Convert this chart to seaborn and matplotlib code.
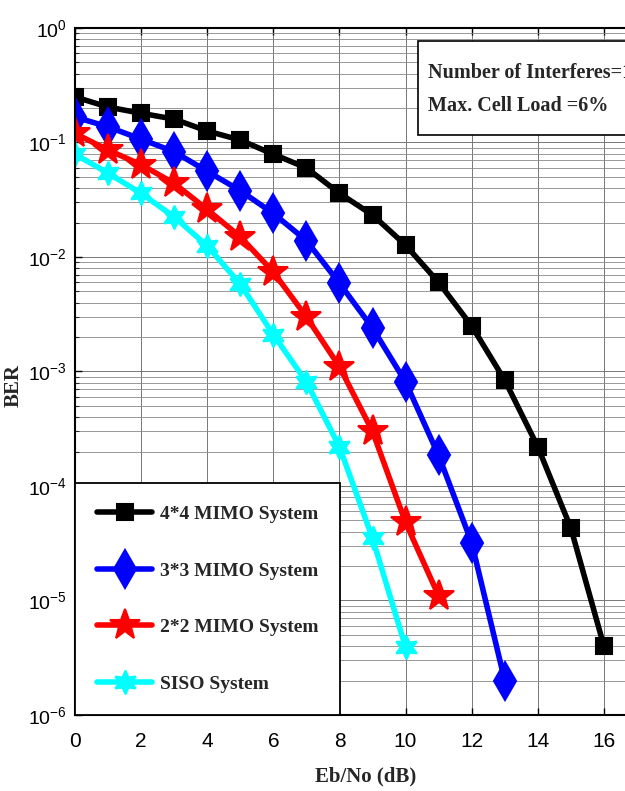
import numpy as np
import pandas as pd
import seaborn as sns
import matplotlib
matplotlib.use("Agg")
import matplotlib.pyplot as plt
from matplotlib.ticker import LogLocator, NullFormatter, FixedLocator
from matplotlib.patches import Rectangle

# ---- data ----
snr_44 = list(range(17))
ber_44 = [0.25, 0.204, 0.18, 0.16, 0.126, 0.105, 0.079, 0.06, 0.036, 0.0233,
          0.0127, 0.006, 0.0025, 8.4e-4, 2.2e-4, 4.3e-5, 4.0e-6]
snr_33 = list(range(14))
ber_33 = [0.167, 0.137, 0.107, 0.083, 0.056, 0.038, 0.024, 0.0139, 0.0059,
          0.0024, 8.1e-4, 1.85e-4, 3.2e-5, 2.0e-6]
snr_22 = list(range(12))
ber_22 = [0.12, 0.086, 0.064, 0.044, 0.026, 0.015, 0.0074, 0.003, 1.1e-3,
          3.0e-4, 4.8e-5, 1.1e-5]
snr_siso = list(range(11))
ber_siso = [0.079, 0.054, 0.036, 0.0224, 0.0125, 0.0058, 0.0021, 8.1e-4,
            2.2e-4, 3.5e-5, 3.9e-6]

labels = ["4*4 MIMO System", "3*3 MIMO System", "2*2 MIMO System", "SISO System"]
xticks = [0, 2, 4, 6, 8, 10, 12, 14, 16]

series = [
    (labels[0], snr_44, ber_44, "black", "s", 12),
    (labels[1], snr_33, ber_33, "blue", "d", 19),
    (labels[2], snr_22, ber_22, "red", "*", 23),
    (labels[3], snr_siso, ber_siso, "cyan", (6, 1, 0), 17),
]

sns.set_theme(style="white")
plt.rcParams["font.family"] = ["Liberation Sans", "DejaVu Sans"]
plt.rcParams["mathtext.fontset"] = "custom"
plt.rcParams["mathtext.rm"] = "Liberation Sans"

fig = plt.figure(figsize=(6.25, 7.91), dpi=100)
ax = fig.add_axes([0.12, 0.0961, 0.952, 0.8685])

for name, xs, ys, col, mk, ms in series:
    df = pd.DataFrame({"snr": xs, "ber": ys})
    sns.lineplot(data=df, x="snr", y="ber", ax=ax, color=col, linewidth=4,
                 marker=mk, markersize=ms, markeredgecolor=col,
                 markerfacecolor=col, markeredgewidth=1.5, label=name)

ax.set_yscale("log")
ax.set_ylim(1e-6, 1)
ax.set_xlim(0, 18)
ax.xaxis.set_major_locator(FixedLocator(xticks))
ax.yaxis.set_major_locator(LogLocator(base=10, numticks=10))
ax.yaxis.set_minor_locator(LogLocator(base=10, subs=np.arange(2, 10), numticks=100))
ax.yaxis.set_minor_formatter(NullFormatter())

ax.grid(True, which="major", color="#777777", linewidth=0.7, linestyle="-")
ax.grid(True, which="minor", axis="y", color="#888888", linewidth=0.6, linestyle="-")

for sp in ax.spines.values():
    sp.set_color("black")
    sp.set_linewidth(1.5)

ax.tick_params(axis="both", which="major", direction="in", length=5, width=1,
               top=True, right=False, bottom=True, left=True,
               colors="black")
ax.tick_params(axis="x", which="major", pad=12, labelsize=15)
ax.tick_params(axis="y", which="major", pad=6, labelsize=14)
ax.tick_params(axis="y", which="minor", direction="in", length=3, width=0.8,
               left=True, right=False)

serif_bold = dict(family=["Liberation Serif", "DejaVu Serif"], weight="bold")
ax.set_xlabel("Eb/No (dB)", fontsize=15, **serif_bold)
ax.set_ylabel("BER", fontsize=15, **serif_bold)
ax.xaxis.set_label_coords((366 - 75) / 595, -0.075)
ax.yaxis.set_label_coords(-0.087, 0.48)

leg = ax.legend(loc="lower left", bbox_to_anchor=(0, 0), borderaxespad=0,
                frameon=True, fancybox=False, edgecolor="black",
                prop=dict(family="Liberation Serif", weight="bold", size=14),
                handlelength=2.8, handletextpad=0.4, labelspacing=2.0,
                borderpad=1.15, framealpha=1)
leg.get_frame().set_linewidth(1.3)

rect = Rectangle((0.5765, 0.844), 0.6, 0.137, transform=ax.transAxes,
                 facecolor="white", edgecolor="black", linewidth=1.2,
                 zorder=5, clip_on=False)
ax.add_patch(rect)
ax.text(0.593, 0.9345, "Number of Interferes=1", transform=ax.transAxes,
        fontsize=14.5, va="center", ha="left", zorder=6, **serif_bold)
ax.text(0.593, 0.8865, "Max. Cell Load =6%", transform=ax.transAxes,
        fontsize=14.5, va="center", ha="left", zorder=6, **serif_bold)

fig.savefig("out.png", dpi=100)
